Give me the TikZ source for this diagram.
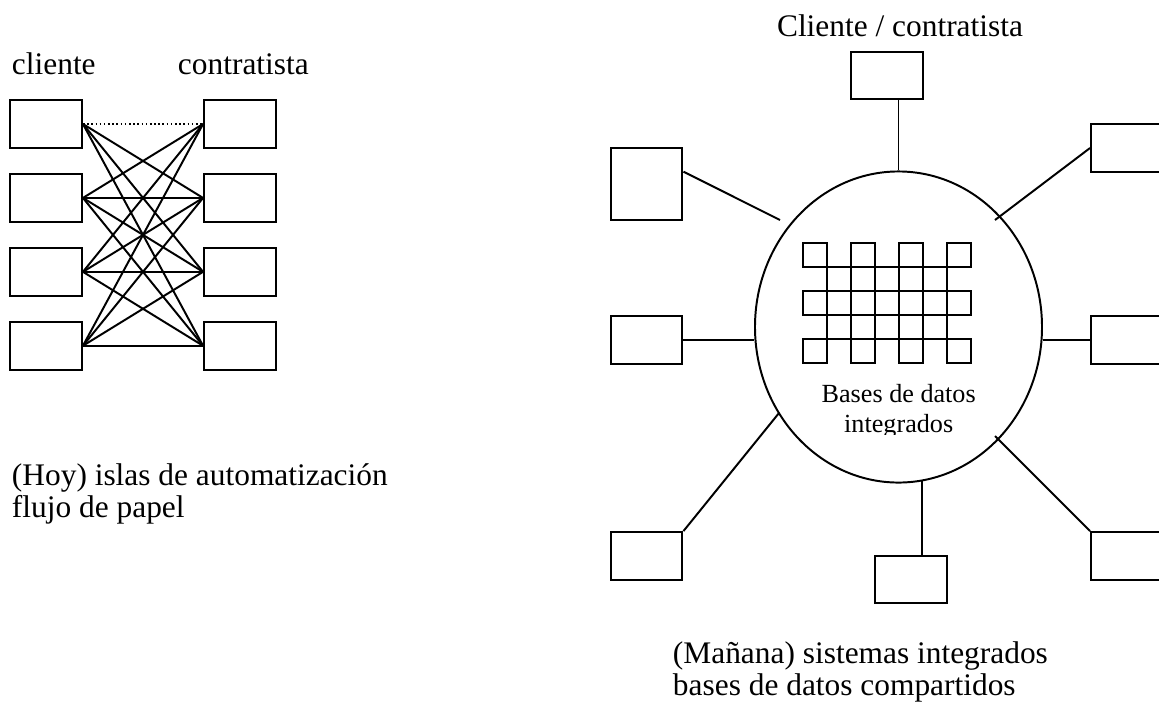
\documentclass[tikz,border=0pt]{standalone}
\usepackage{fontspec}
\setmainfont{Liberation Serif}
\usetikzlibrary{calc}
\usetikzlibrary{positioning}
\usetikzlibrary{shapes}

\begin{document}
\begin{tikzpicture}[x=0.3822pt,y=-0.3822pt,line width=0.75pt,
      font=\fontsize{12}{12.2}\selectfont,
      box style/.style={rectangle,draw=black,minimum width=27.5pt,
        minimum height=18.3pt,inner sep=0pt},
      sq style/.style={box style,minimum height=27.5pt},
      db style/.style={ellipse,draw=black,minimum width=109.7pt,
        minimum height=118.9pt,inner sep=0pt},
      label style/.style={inner sep=0pt,align=left}
      ]
      \useasboundingbox (0,0) rectangle (1159,706);
      \clip (0,0) rectangle (1159,706);
      % hoy
      \node[box style] (cli1) at (46,124) {};
      \node[box style,below=9.2pt of cli1] (cli2) {};
      \node[box style,below=9.2pt of cli2] (cli3) {};
      \node[box style,below=9.2pt of cli3] (cli4) {};
      \node[box style,right=45.9pt of cli1] (con1) {};
      \node[box style,right=45.9pt of cli2] (con2) {};
      \node[box style,right=45.9pt of cli3] (con3) {};
      \node[box style,right=45.9pt of cli4] (con4) {};
      \node[label style,anchor=base west] (lblcli) at (11,74) {cliente};
      \node[label style,anchor=base west] (lblcon) at (177,74) {contratista};
      \draw[densely dotted,line width=0.6pt] (cli1.east) -- (con1.west);
      \foreach \i in {1,...,4}
        \foreach \j in {1,...,4}
          {\ifnum\i\j=11\relax\else\draw (cli\i.east) -- (con\j.west);\fi}
      \node[label style,anchor=base west] (lblhoy) at (11,517)
        {(Hoy) islas de automatización\\flujo de papel};
      % manana
      \node[label style,anchor=base] (lblcc) at (900,36) {Cliente / contratista};
      \node[db style] (db) at (898.5,327) {};
      \foreach \i in {0,2,4,6}
        \foreach \j in {0,2,4}
          \draw (803+24*\i,243+24*\j) rectangle ++(24,24);
      \foreach \j in {1,...,4}
        \draw (803,243+24*\j) -- ++(168,0);
      \foreach \i in {1,...,6}
        \draw (803+24*\i,243) -- ++(0,120);
      \begin{scope}
        \clip (750,360) rectangle (1050,434);
        \node[inner sep=0pt,align=center,anchor=base,
          font=\fontsize{10}{11.1}\selectfont] (dbtxt) at (898.7,432)
          {Bases de datos\\integrados};
      \end{scope}
      \node[box style] (ctop) at (887,75.5) {};
      \node[sq style] (ul) at (646.5,184) {};
      \node[box style] (ur) at (1127,148) {};
      \node[box style] (ml) at (646.5,340) {};
      \node[box style] (mr) at (1127,340) {};
      \node[box style] (ll) at (646.5,556) {};
      \node[box style] (lr) at (1127,556) {};
      \node[box style] (bt) at (911,579.5) {};
      \coordinate (ulend) at (780,220);
      \coordinate (urend) at (995,220);
      \coordinate (llend) at (779,413);
      \coordinate (lrend) at (995,436);
      \coordinate (btend) at (922,481);
      \draw (db.north |- ctop.south) -- (db.north);
      \draw ($(ul.north east)!0.333!(ul.south east)$) -- (ulend);
      \draw (ur.west) -- (urend);
      \draw (ml.east) -- (ml.east -| db.west);
      \draw (mr.west) -- (mr.west -| db.east);
      \draw (ll.north east) -- (llend);
      \draw (lr.north west) -- (lrend);
      \draw (btend) -- (btend |- bt.north);
      \node[label style,anchor=base west] (lblman) at (672,695)
        {(Mañana) sistemas integrados\\bases de datos compartidos};
    \end{tikzpicture}
\end{document}
